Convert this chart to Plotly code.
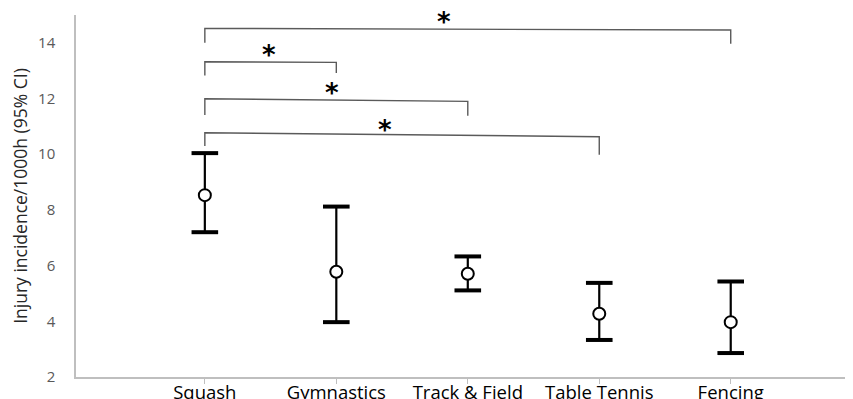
import plotly.graph_objects as go

categories = ["Squash", "Gymnastics", "Track & Field", "Table Tennis", "Fencing"]
x_pos = [1, 2, 3, 4, 5]
mean = [8.53, 5.78, 5.71, 4.27, 3.97]
upper = [10.04, 8.12, 6.33, 5.38, 5.43]
lower = [7.20, 3.97, 5.11, 3.33, 2.86]

# significance brackets: (from category x, to category x, left top, right top, left foot, right foot)
br_from = [1, 1, 1, 1]
br_to = [5, 2, 3, 4]
br_top_left = [14.52, 13.32, 11.99, 10.77]
br_top_right = [14.46, 13.30, 11.90, 10.63]
br_foot_left = [14.0, 12.83, 11.41, 10.30]
br_foot_right = [13.97, 12.92, 11.38, 9.98]
star_x = [2.82, 1.49, 1.97, 2.37]
star_y = [14.92, 13.74, 12.38, 11.05]

fig = go.Figure()

# error stems
fig.add_trace(go.Scatter(
    x=x_pos, y=mean, mode="markers",
    marker=dict(size=0.1, color="rgba(0,0,0,0)"),
    error_y=dict(type="data", symmetric=False,
                 array=[u - m for u, m in zip(upper, mean)],
                 arrayminus=[m - l for m, l in zip(mean, lower)],
                 color="black", thickness=2.2, width=0),
    showlegend=False, hoverinfo="skip"))

# caps
fig.add_trace(go.Scatter(
    x=x_pos + x_pos, y=upper + lower, mode="markers",
    marker=dict(symbol="line-ew", size=19, line=dict(width=4, color="black")),
    showlegend=False, hoverinfo="skip"))

# mean markers
fig.add_trace(go.Scatter(
    x=x_pos, y=mean, mode="markers",
    marker=dict(symbol="circle", size=12, color="white",
                line=dict(width=2, color="black")),
    showlegend=False))

for i in range(len(br_from)):
    fig.add_trace(go.Scatter(
        x=[br_from[i], br_from[i], br_to[i], br_to[i]],
        y=[br_foot_left[i], br_top_left[i], br_top_right[i], br_foot_right[i]],
        mode="lines", line=dict(color="#5a5a5a", width=1.4),
        showlegend=False, hoverinfo="skip"))
    fig.add_annotation(x=star_x[i], y=star_y[i], text="<b>*</b>", showarrow=False,
                       font=dict(family="DejaVu Sans", size=26, color="black"),
                       xanchor="center", yanchor="middle", yshift=-5)

fig.update_xaxes(
    range=[0.02, 5.93], tickmode="array", tickvals=x_pos, ticktext=categories,
    showline=True, linecolor="#bfbfbf", linewidth=1.5,
    ticks="outside", ticklen=5, tickcolor="#bfbfbf",
    showgrid=False, zeroline=False, automargin=False,
    ticklabelstandoff=-7,
    tickfont=dict(family="Open Sans", size=18.5, color="black"))
fig.update_yaxes(
    range=[2, 15], tickvals=[2, 4, 6, 8, 10, 12, 14],
    showline=True, linecolor="#bfbfbf", linewidth=1.5,
    ticks="", showgrid=False, zeroline=False, automargin=False,
    ticklabelstandoff=16,
    tickfont=dict(family="Open Sans", size=15, color="#595959"),
    title=dict(text="Injury incidence/1000h (95% CI)", standoff=8,
               font=dict(family="Open Sans", size=17.5, color="#262626")))

fig.update_layout(
    width=845, height=391,
    margin=dict(l=68, r=0, t=7, b=22),
    plot_bgcolor="white", paper_bgcolor="white")

fig.write_html("out.html")
